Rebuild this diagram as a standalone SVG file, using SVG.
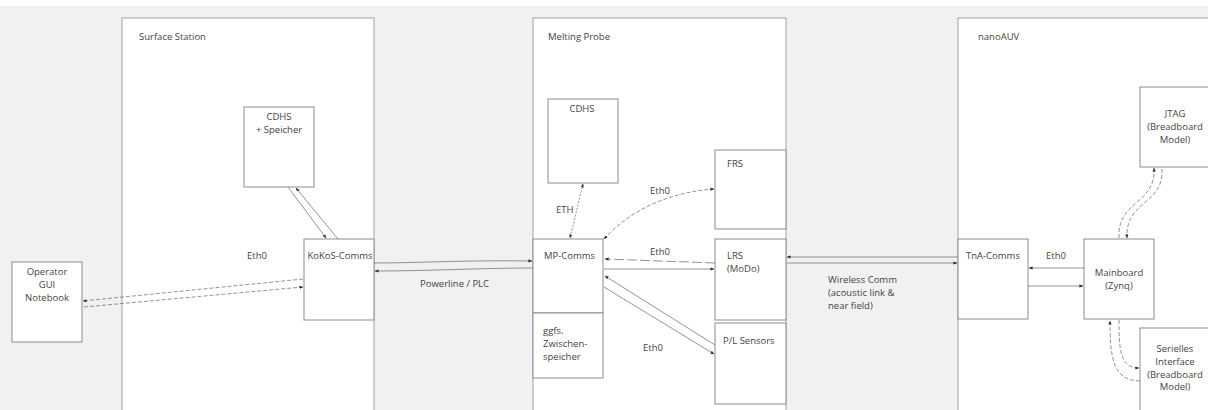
<svg xmlns="http://www.w3.org/2000/svg" width="1208" height="410" viewBox="0 0 1208 410">
<style>
.bg{fill:#f1f1f1}
.cont{fill:#ffffff;stroke:#a2a2b2;stroke-width:1}
.box{fill:#ffffff;stroke:#8a8a96;stroke-width:1}
text{font-family:"Open Sans","Noto Sans","Liberation Sans",sans-serif;font-size:9.5px;fill:#444444}
.c{text-anchor:middle}
.ln{fill:none;stroke:#666;stroke-width:0.7}
.ds{stroke-dasharray:4 2}
.lds{stroke-dasharray:10 3}
.dt{stroke-dasharray:2 1.5}
</style>
<defs>
<marker id="ah" viewBox="0 0 10 10" refX="9" refY="5" markerWidth="4" markerHeight="4" orient="auto-start-reverse" markerUnits="userSpaceOnUse">
<path d="M0,1 L10,5 L0,9 z" fill="#333"/>
</marker>
</defs>
<rect x="0" y="0" width="1208" height="410" fill="#ffffff"/>
<rect class="bg" x="0" y="6" width="1208" height="404"/>

<g id="surface-station">
<rect class="cont" x="122" y="18" width="252" height="400"/>
<text x="139" y="40">Surface Station</text>
</g>
<g id="melting-probe">
<rect class="cont" x="533" y="18" width="253" height="400"/>
<text x="548" y="40">Melting Probe</text>
</g>
<g id="nanoauv">
<rect class="cont" x="958" y="18" width="260" height="400"/>
<text x="978" y="40">nanoAUV</text>
</g>

<g id="operator">
<rect class="box" x="12" y="262" width="70" height="80"/>
<text class="c" x="47" y="275">Operator</text>
<text class="c" x="47" y="288">GUI</text>
<text class="c" x="47" y="301">Notebook</text>
</g>
<g id="cdhs-speicher">
<rect class="box" x="244" y="107" width="70" height="80"/>
<text class="c" x="279" y="120">CDHS</text>
<text class="c" x="279" y="133">+ Speicher</text>
</g>
<g id="kokos-comms">
<rect class="box" x="304" y="239" width="70" height="81"/>
<text class="c" x="340" y="259">KoKoS-Comms</text>
</g>

<g id="cdhs">
<rect class="box" x="548" y="99" width="70" height="84"/>
<text class="c" x="582" y="112">CDHS</text>
</g>
<g id="mp-comms">
<rect class="box" x="533" y="239" width="70" height="74"/>
<text x="544" y="259">MP-Comms</text>
</g>
<g id="zwischenspeicher">
<rect class="box" x="533" y="313" width="70" height="65"/>
<text x="543" y="334">ggfs.</text>
<text x="543" y="347">Zwischen-</text>
<text x="543" y="360">speicher</text>
</g>
<g id="frs">
<rect class="box" x="715" y="150" width="71" height="79"/>
<text x="727" y="167">FRS</text>
</g>
<g id="lrs">
<rect class="box" x="715" y="239" width="71" height="81"/>
<text x="727" y="259">LRS</text>
<text x="727" y="272">(MoDo)</text>
</g>
<g id="pl-sensors">
<rect class="box" x="715" y="323" width="71" height="81"/>
<text x="723" y="344">P/L Sensors</text>
</g>

<g id="tna-comms">
<rect class="box" x="958" y="239" width="70" height="80"/>
<text x="966" y="259">TnA-Comms</text>
</g>
<g id="mainboard">
<rect class="box" x="1084" y="239" width="70" height="80"/>
<text class="c" x="1119" y="276">Mainboard</text>
<text class="c" x="1119" y="289">(Zynq)</text>
</g>
<g id="jtag">
<rect class="box" x="1140" y="87" width="75" height="80"/>
<text class="c" x="1175" y="117">JTAG</text>
<text class="c" x="1175" y="130">(Breadboard</text>
<text class="c" x="1175" y="143">Model)</text>
</g>
<g id="serielles">
<rect class="box" x="1140" y="328" width="75" height="90"/>
<text class="c" x="1175" y="352">Serielles</text>
<text class="c" x="1175" y="365">Interface</text>
<text class="c" x="1175" y="378">(Breadboard</text>
<text class="c" x="1175" y="390">Model)</text>
</g>

<g id="connectors">
<line class="ln" x1="288" y1="187" x2="326" y2="238" marker-end="url(#ah)"/>
<line class="ln" x1="338" y1="239" x2="296" y2="188" marker-end="url(#ah)"/>
<line class="ln ds" x1="303" y1="279" x2="83" y2="301" marker-end="url(#ah)"/>
<line class="ln ds" x1="84" y1="307" x2="303" y2="287" marker-end="url(#ah)"/>
<path class="ln" d="M374,263 C420,263 460,260 532,261" marker-end="url(#ah)"/>
<path class="ln" d="M533,268 C480,268 430,271 375,271" marker-end="url(#ah)"/>
<line class="ln dt" x1="583" y1="184" x2="570" y2="238" marker-start="url(#ah)" marker-end="url(#ah)"/>
<path class="ln ds" d="M604,239 C630,210 670,192 714,189" marker-start="url(#ah)" marker-end="url(#ah)"/>
<line class="ln lds" x1="715" y1="263" x2="605" y2="259" marker-end="url(#ah)"/>
<line class="ln" x1="604" y1="269" x2="714" y2="269" marker-end="url(#ah)"/>
<line class="ln" x1="715" y1="345" x2="605" y2="276" marker-end="url(#ah)"/>
<line class="ln" x1="604" y1="287" x2="714" y2="354" marker-end="url(#ah)"/>
<line class="ln" x1="958" y1="257" x2="787" y2="257" marker-end="url(#ah)"/>
<line class="ln" x1="787" y1="263" x2="957" y2="263" marker-end="url(#ah)"/>
<line class="ln" x1="1084" y1="268" x2="1029" y2="268" marker-end="url(#ah)"/>
<line class="ln" x1="1028" y1="286" x2="1083" y2="286" marker-end="url(#ah)"/>
<path class="ln ds" d="M1119,238 C1117,200 1156,205 1154,168" marker-end="url(#ah)"/>
<path class="ln ds" d="M1162,169 C1164,205 1125,200 1127,238" marker-end="url(#ah)"/>
<path class="ln ds" d="M1119,320 C1119,350 1120,368 1139,368" marker-end="url(#ah)"/>
<path class="ln ds" d="M1140,381 C1112,381 1110,355 1110,321" marker-end="url(#ah)"/>
</g>

<g id="labels">
<text x="247" y="259">Eth0</text>
<text x="420" y="287">Powerline / PLC</text>
<text x="556" y="213">ETH</text>
<text x="650" y="194">Eth0</text>
<text x="650" y="255">Eth0</text>
<text x="643" y="351">Eth0</text>
<text x="828" y="283">Wireless Comm</text>
<text x="828" y="296">(acoustic link &amp;</text>
<text x="828" y="309">near field)</text>
<text x="1046" y="259">Eth0</text>
</g>
</svg>
